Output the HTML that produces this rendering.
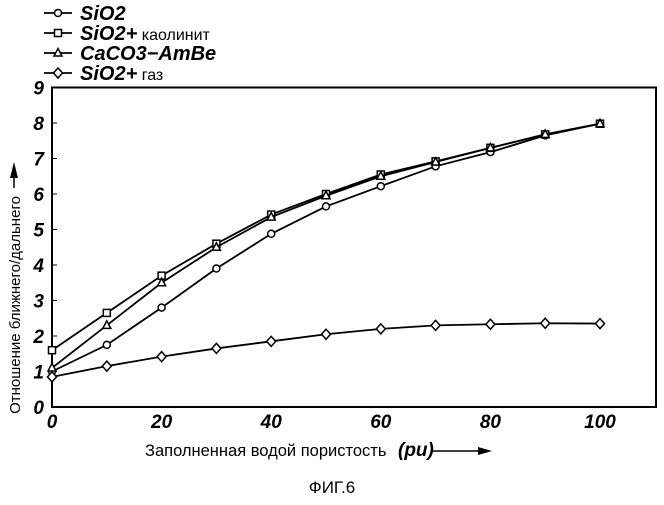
<!DOCTYPE html>
<html><head><meta charset="utf-8"><style>
body{margin:0;background:#fff;width:664px;height:500px;overflow:hidden}
text{font-family:"Liberation Sans",sans-serif;fill:#000}
</style></head><body>
<svg id="c" width="664" height="500"></svg>
<script>
const xTicks=[0,20,40,60,80,100];
const yTicks=[0,1,2,3,4,5,6,7,8,9];
const xs=[0,10,20,30,40,50,60,70,80,90,100];
const sio2=[1.0,1.75,2.8,3.9,4.88,5.65,6.22,6.78,7.18,7.65,7.98];
const kaol=[1.6,2.65,3.7,4.6,5.42,6.0,6.55,6.92,7.3,7.68,7.98];
const caco3=[1.1,2.3,3.5,4.5,5.35,5.95,6.5,6.9,7.3,7.68,7.98];
const gas=[0.85,1.15,1.42,1.65,1.85,2.05,2.2,2.3,2.33,2.36,2.35];
const legendLabels=[["SiO2",""],["SiO2+"," каолинит"],["CaCO3−AmBe",""],["SiO2+"," газ"]];
const NS="http://www.w3.org/2000/svg";
const svg=document.getElementById('c');
const X=v=>52+v*5.48, Y=v=>407-v*35.5;
function mk(t,a,p){const e=document.createElementNS(NS,t);for(const k in a)e.setAttribute(k,a[k]);(p||svg).appendChild(e);return e;}
const frame=mk('path',{d:`M${X(0)} ${Y(9)}H656V${Y(0)}H${X(0)}Z`,fill:'none',stroke:'#000','stroke-width':2});


xTicks.forEach(v=>{
 const t=mk('text',{x:X(v),y:428,'text-anchor':'middle','font-size':19,'font-weight':'bold','font-style':'italic'});t.textContent=v;
 
 
});
yTicks.forEach(v=>{
 const t=mk('text',{x:44,y:Y(v)+7,'text-anchor':'end','font-size':19,'font-weight':'bold','font-style':'italic'});t.textContent=v;
 
 
 mk('line',{x1:X(0),x2:X(0)+5,y1:Y(v),y2:Y(v),stroke:'#000'});
});
function marker(type,cx,cy,g){
 const a={fill:'#fff',stroke:'#000','stroke-width':1.5};
 if(type==='c')return mk('circle',Object.assign({cx,cy,r:3.5},a),g);
 if(type==='s')return mk('rect',Object.assign({x:cx-3.5,y:cy-3.5,width:7,height:7},a),g);
 if(type==='t')return mk('path',Object.assign({d:`M${cx} ${cy-4.5}L${cx+4} ${cy+3}L${cx-4} ${cy+3}Z`},a),g);
 return mk('path',Object.assign({d:`M${cx} ${cy-5}L${cx+4.5} ${cy}L${cx} ${cy+5}L${cx-4.5} ${cy}Z`},a),g);
}
const series=[[sio2,'c','series-sio2'],[kaol,'s','series-sio2-kaolinite'],[caco3,'t','series-caco3-ambe'],[gas,'d','series-sio2-gas']];
series.forEach(([d,m,n])=>{
 const g=mk('g',{});
 
 
 mk('polyline',{points:xs.map((x,i)=>X(x)+','+Y(d[i])).join(' '),fill:'none',stroke:'#000','stroke-width':1.8},g);
 xs.forEach((x,i)=>marker(m,X(x),Y(d[i]),g));
});
const types=['c','s','t','d'];
legendLabels.forEach((l,i)=>{
 const y=13+i*20;
 const g=mk('g',{});
 
 
 mk('line',{x1:44,x2:72,y1:y,y2:y,stroke:'#000','stroke-width':1.8},g);
 marker(types[i],58,y,g);
 const t=mk('text',{x:80,y:y+7,'font-size':20,'font-weight':'bold','font-style':'italic'},g);t.textContent=l[0];
 if(l[1]){const s=mk('tspan',{'font-size':16,'font-weight':'normal','font-style':'normal'},t);s.textContent=l[1];}
});
const xt=mk('text',{x:145,y:456,'font-size':16.5});xt.textContent='Заполненная водой пористость';


const pu=mk('text',{x:398,y:456,'font-size':19,'font-weight':'bold','font-style':'italic'});pu.textContent='(pu)';


mk('line',{x1:432,x2:480,y1:451,y2:451,stroke:'#000','stroke-width':1.5});
mk('path',{d:'M478 447L492 451L478 455Z',fill:'#000'});
const yt=mk('text',{x:0,y:0,'font-size':15,'text-anchor':'middle',transform:'translate(20,305) rotate(-90)'});yt.textContent='Отношение ближнего/дальнего';


mk('line',{x1:14,x2:14,y1:188,y2:175,stroke:'#000','stroke-width':1.5});
mk('path',{d:'M10 178L14 162L18 178Z',fill:'#000'});
const cap=mk('text',{x:332,y:493,'font-size':17,'text-anchor':'middle'});cap.textContent='ФИГ.6';


</script>
</body></html>
